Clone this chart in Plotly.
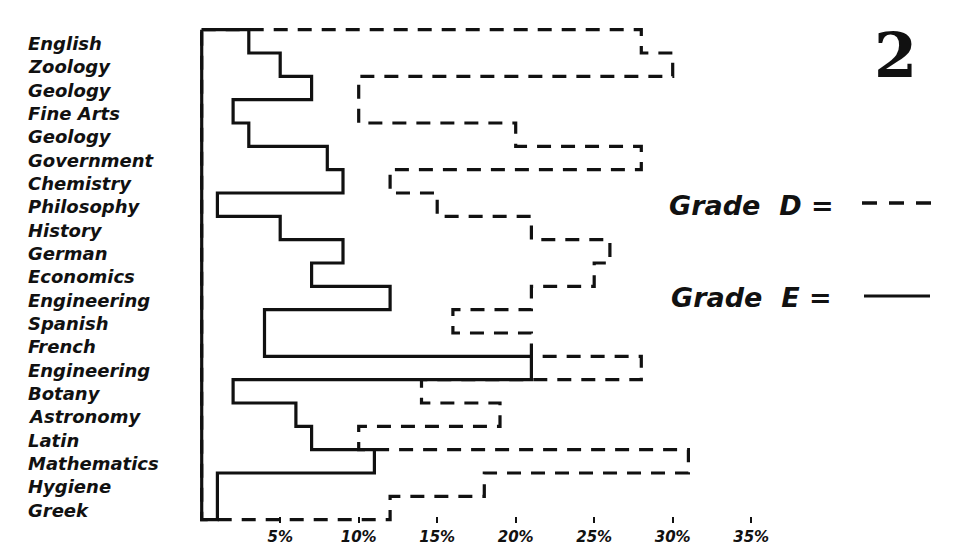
import plotly.graph_objects as go

categories = ["English", "Zoology", "Geology", "Fine Arts", "Geology", "Government",
              "Chemistry", "Philosophy", "History", "German", "Economics", "Engineering",
              "Spanish", "French", "Engineering", "Botany", "Astronomy", "Latin",
              "Mathematics", "Hygiene", "Greek"]
grade_d = [28, 30, 10, 10, 20, 28, 12, 15, 21, 26, 25, 21, 16, 21, 28, 14, 19, 10, 31, 18, 12]
grade_e = [3, 5, 7, 2, 3, 8, 9, 1, 5, 9, 7, 12, 4, 4, 21, 2, 6, 7, 11, 1, 1]
tick_vals = [5, 10, 15, 20, 25, 30, 35]
tick_text = ["5%", "10%", "15%", "20%", "25%", "30%", "35%"]

INK = "#111111"
LABEL_FONT = dict(family="DejaVu Sans", size=18, color=INK, weight="bold", style="italic")


def step_outline(values):
    n = len(values)
    xs, ys = [0], [-0.5]
    for i, v in enumerate(values):
        xs += [v, v]
        ys += [i - 0.5, i + 0.5]
    xs += [0, 0]
    ys += [n - 0.5, -0.5]
    return xs, ys


fig = go.Figure()
dx, dy = step_outline(grade_d)
fig.add_trace(go.Scatter(x=dx, y=dy, mode="lines", name="Grade D",
                         line=dict(color=INK, width=3.2, dash="14px,10px"),
                         hoverinfo="skip", showlegend=False))
ex, ey = step_outline(grade_e)
fig.add_trace(go.Scatter(x=ex, y=ey, mode="lines", name="Grade E",
                         line=dict(color=INK, width=3.2),
                         hoverinfo="skip", showlegend=False))

L, R, T, B = 186, 28, 18, 34
W = 960 - L - R
H = 557 - T - B
px_x = 15.7
px_y = 490 / 21
x0 = -1
x1 = x0 + W / px_x
y_top = -1
y_bot = y_top + H / px_y

annotations = []
for i, c in enumerate(categories):
    annotations.append(dict(x=(26 - L) / W, xref="paper", y=i, yref="y", text=c,
                            showarrow=False, xanchor="left", yanchor="middle",
                            yshift=-2, font=LABEL_FONT))

big = dict(family="DejaVu Sans", size=27, color=INK, weight="bold", style="italic")
annotations.append(dict(x=(667 - L) / W, xref="paper", y=1 - (205 - T) / H, yref="paper",
                        text="Grade  D =", showarrow=False, xanchor="left", yanchor="middle",
                        font=big))
annotations.append(dict(x=(669 - L) / W, xref="paper", y=1 - (297 - T) / H, yref="paper",
                        text="Grade  E =", showarrow=False, xanchor="left", yanchor="middle",
                        font=big))
annotations.append(dict(x=(895 - L) / W, xref="paper", y=1 - (56 - T) / H, yref="paper",
                        text="2", showarrow=False, xanchor="center", yanchor="middle",
                        font=dict(family="DejaVu Serif", size=62, color=INK, weight="bold")))

shapes = [
    dict(type="line", xref="paper", yref="paper",
         x0=(862 - L) / W, x1=(931 - L) / W,
         y0=1 - (203 - T) / H, y1=1 - (203 - T) / H,
         line=dict(color=INK, width=3.5, dash="15px,12px")),
    dict(type="line", xref="paper", yref="paper",
         x0=(864 - L) / W, x1=(930 - L) / W,
         y0=1 - (296 - T) / H, y1=1 - (296 - T) / H,
         line=dict(color=INK, width=3.2)),
]

fig.update_layout(
    width=960, height=557,
    margin=dict(l=L, r=R, t=T, b=B),
    paper_bgcolor="white", plot_bgcolor="white",
    showlegend=False,
    annotations=annotations,
    shapes=shapes,
    xaxis=dict(range=[x0, x1], tickvals=tick_vals, ticktext=tick_text,
               showgrid=False, zeroline=False, showline=False,
               ticks="inside", ticklen=6, tickwidth=2, tickcolor=INK,
               ticklabelstandoff=3,
               tickfont=dict(family="DejaVu Sans", size=15, color=INK,
                             weight="bold", style="italic")),
    yaxis=dict(range=[y_bot, y_top], showticklabels=False, showgrid=False,
               zeroline=False, showline=False, ticks=""),
)

fig.write_html("out.html", config={"displayModeBar": False},
               post_script="document.body.style.margin='0px';document.body.style.overflow='hidden';")
